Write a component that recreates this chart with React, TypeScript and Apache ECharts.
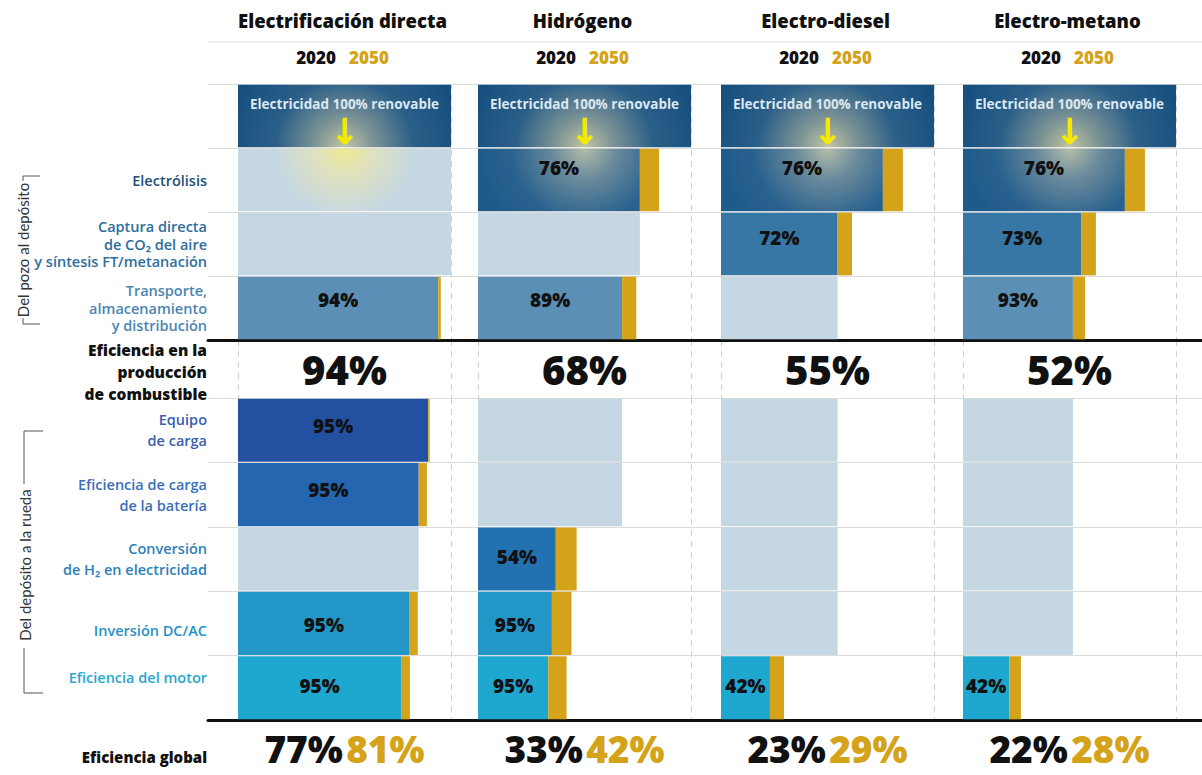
import React, { useEffect, useRef } from 'react';
import * as echarts from 'echarts';

// ---------------- data ----------------
const COLUMNS = ['Electrificación directa', 'Hidrógeno', 'Electro-diesel', 'Electro-metano'];
const YEARS = ['2020', '2050'];

const UPPER_ROWS = [
  'Electricidad 100% renovable',
  'Electrólisis',
  'Captura directa\nde CO₂ del aire\ny síntesis FT/metanación',
  'Transporte,\nalmacenamiento\ny distribución',
];
const LOWER_ROWS = [
  'Equipo\nde carga',
  'Eficiencia de carga\nde la batería',
  'Conversión\nde H₂ en electricidad',
  'Inversión DC/AC',
  'Eficiencia del motor',
];
const FUEL_ROW_LABEL = 'Eficiencia en la\nproducción\nde combustible';
const GLOBAL_ROW_LABEL = 'Eficiencia global';
const SECTION_UPPER = 'Del pozo al depósito';
const SECTION_LOWER = 'Del depósito a la rueda';

// stage efficiency 2020 (%) for Electrólisis, Captura, Transporte; null = step not used
const UPPER_2020: (number | null)[][] = [
  [null, null, 94],
  [76, null, 89],
  [76, 72, null],
  [76, 73, 93],
];
// share of energy remaining after the step in 2050 (%)
const UPPER_2050: (number | null)[][] = [
  [null, null, 95.2],
  [85.0, null, 74.3],
  [85.4, 61.5, null],
  [85.4, 62.4, 57.3],
];
const FUEL_EFF = [94, 68, 55, 52];
// stage efficiency 2020 (%) for the tank-to-wheel steps
const LOWER_2020: (number | null)[][] = [
  [95, 95, null, 95, 95],
  [null, null, 54, 95, 95],
  [null, null, null, null, 42],
  [null, null, null, null, 42],
];
const LOWER_2050: (number | null)[][] = [
  [90.0, 88.7, null, 84.4, 80.7],
  [null, null, 46.3, 43.9, 41.6],
  [null, null, null, null, 29.6],
  [null, null, null, null, 27.2],
];
const GLOBAL_2020 = [77, 33, 23, 22];
const GLOBAL_2050 = [81, 42, 29, 28];

// ---------------- style / layout ----------------
const FONT = '"Open Sans", Lato, "Noto Sans", sans-serif';
const GOLD = '#d4a31a';
const LIGHT = '#c5d7e3';
const UPPER_COLORS = ['#17507f', '#1f5b8a', '#3777a5', '#5b8fb6'];
const LOWER_COLORS = ['#2350a0', '#2466b0', '#2272b2', '#2396c8', '#1fa8cf'];
const UPPER_TEXT = ['#1e4f78', '#1e4f78', '#2e6e9c', '#4b86b2'];
const LOWER_TEXT = ['#3a5fae', '#3a6fb8', '#2e7fba', '#2592c4', '#27a7cf'];
const UPPER_LABEL_DY = [0, -12, -6, -8];
const LOWER_LABEL_DY = [-4, -5, -2, 2, -2];

const COL_LEFT = [238, 478, 721, 963];
const COL_W = 213;
const BG_LEFT = 208;
const UP_TOP = 84;
const UP_H = 256;
const FUEL_TOP = 340;
const FUEL_H = 58;
const LOW_TOP = 398;
const LOW_H = 322;
const GLOB_TOP = 722;
const GLOB_H = 53;
const LABEL_MARGIN = 31;

function glow(cx: number, cy: number, r: number, stops: [number, string][]) {
  return new echarts.graphic.RadialGradient(
    cx, cy, r,
    stops.map(([offset, color]) => ({ offset, color })),
    true
  );
}

function buildOption() {
  const grids: any[] = [];
  const xAxes: any[] = [];
  const yAxes: any[] = [];
  const series: any[] = [];
  const graphics: any[] = [];

  const addGrid = (g: any, x: any, y: any) => {
    grids.push(g);
    const i = grids.length - 1;
    xAxes.push({ ...x, gridIndex: i });
    yAxes.push({ ...y, gridIndex: i });
    return i;
  };

  const hiddenBits = { axisTick: { show: false }, axisLabel: { show: false } };

  // background row lines
  const bgX = {
    type: 'value', min: 0, max: 1, ...hiddenBits,
    axisLine: { show: true, onZero: false, lineStyle: { color: '#111', width: 3 } },
    splitLine: { show: false },
  };
  addGrid({ left: BG_LEFT, right: 0, top: UP_TOP, height: UP_H }, bgX, {
    type: 'category', inverse: true, data: UPPER_ROWS, ...hiddenBits,
    axisLine: { show: false }, splitLine: { show: true, lineStyle: { color: '#dcdcdc', width: 1 } },
  });
  addGrid({ left: BG_LEFT, right: 0, top: LOW_TOP, height: LOW_H }, bgX, {
    type: 'category', inverse: true, data: LOWER_ROWS, ...hiddenBits,
    axisLine: { show: false }, splitLine: { show: true, lineStyle: { color: '#dcdcdc', width: 1 } },
  });

  const colX = (dashed: boolean) => ({
    type: 'value', min: 0, max: 100, interval: 100, ...hiddenBits,
    axisLine: { show: false },
    splitLine: { show: dashed, lineStyle: { color: '#d0d0d0', type: [6, 5], width: 1 } },
  });

  const rowLabel = (rows: string[], colors: string[], extra: Record<number, any>, skipFirst: boolean) => {
    const rich: any = {};
    rows.forEach((_, i) => {
      rich['r' + i] = {
        color: colors[i], fontFamily: FONT, fontSize: 14.5, fontWeight: 600,
        lineHeight: rows === UPPER_ROWS ? 17.5 : 21, align: 'right', ...(extra[i] || {}),
      };
    });
    return {
      show: true, margin: LABEL_MARGIN, align: 'right',
      formatter: (v: string, i: number) =>
        skipFirst && i === 0 ? '' : v.split('\n').map((l) => `{r${i}|${l}}`).join('\n'),
      rich,
    };
  };

  const barLabel = (v: number, dy: number) => ({
    show: true, position: 'inside', offset: [0, dy], formatter: `${v}%`,
    fontFamily: FONT, fontSize: 19, fontWeight: 800, color: '#111',
  });

  COLUMNS.forEach((name, c) => {
    const cx = COL_LEFT[c] + COL_W / 2;
    const glowY = UP_TOP + UP_H / 4;

    // ---------- upper section ----------
    const gU = addGrid({ left: COL_LEFT[c], width: COL_W, top: UP_TOP, height: UP_H }, colX(true), {
      type: 'category', inverse: true, data: UPPER_ROWS, axisLine: { show: false }, axisTick: { show: false },
      axisLabel: c === 0 ? rowLabel(UPPER_ROWS, UPPER_TEXT, {}, true) : { show: false },
    });
    let cur = 100;
    const uBase: any[] = [];
    const uGold: any[] = [];
    uBase.push({
      value: 100,
      itemStyle: {
        color: glow(cx, glowY, 115, [[0, '#c2c6a2'], [0.25, '#7d9495'], [0.6, '#2b5f88'], [1, UPPER_COLORS[0]]]),
      },
      label: {
        show: true, position: 'insideTop', distance: 9,
        formatter: `{t|${UPPER_ROWS[0]}}\n{a|↓}`,
        rich: {
          t: { color: '#dce8f2', fontFamily: FONT, fontSize: 13.5, fontWeight: 'bold', lineHeight: 20 },
          a: { color: '#f6e900', fontFamily: '"DejaVu Sans"', fontSize: 36, fontWeight: 'bold', lineHeight: 36 },
        },
      },
    });
    uGold.push(0);
    UPPER_2020[c].forEach((s, k) => {
      const r = k + 1;
      const before = cur;
      if (s != null) {
        cur = (cur * s) / 100;
        let color: any = UPPER_COLORS[r];
        if (r === 1) color = glow(cx, glowY, 105, [[0, '#b4bea8'], [0.3, '#6a8a9c'], [0.7, '#2a628e'], [1, UPPER_COLORS[1]]]);
        uBase.push({ value: cur, itemStyle: { color }, label: barLabel(s, UPPER_LABEL_DY[r]) });
        const reach = UPPER_2050[c][k];
        uGold.push(reach != null ? Math.max(0, reach - cur) : 0);
      } else {
        let color: any = LIGHT;
        if (r === 1) color = glow(cx, glowY, 95, [[0, '#eee98f'], [0.3, '#dfe1bf'], [0.75, LIGHT], [1, LIGHT]]);
        uBase.push({ value: before, itemStyle: { color }, label: { show: false } });
        uGold.push(0);
      }
    });
    series.push({
      type: 'bar', xAxisIndex: gU, yAxisIndex: gU, stack: 'u' + c, barCategoryGap: '2%', silent: true, data: uBase,
    });
    series.push({
      type: 'bar', xAxisIndex: gU, yAxisIndex: gU, stack: 'u' + c, barCategoryGap: '2%', silent: true,
      itemStyle: { color: GOLD }, data: uGold,
    });

    // ---------- fuel production row ----------
    const gF = addGrid({ left: COL_LEFT[c], width: COL_W, top: FUEL_TOP, height: FUEL_H }, colX(true), {
      type: 'category', data: [FUEL_ROW_LABEL], axisLine: { show: false }, axisTick: { show: false },
      axisLabel: c === 0
        ? {
            show: true, margin: LABEL_MARGIN, align: 'right',
            formatter: (v: string) => v.split('\n').map((l) => `{f|${l}}`).join('\n'),
            rich: { f: { color: '#111', fontFamily: FONT, fontSize: 15.5, fontWeight: 800, lineHeight: 22, align: 'right', padding: [5, 0, 0, 0] } },
          }
        : { show: false },
    });
    series.push({
      type: 'bar', xAxisIndex: gF, yAxisIndex: gF, barCategoryGap: 0, silent: true,
      itemStyle: { color: 'rgba(0,0,0,0)' },
      data: [{
        value: 100,
        label: {
          show: true, position: 'inside', formatter: `${FUEL_EFF[c]}%`,
          fontFamily: FONT, fontSize: 40, fontWeight: 800, color: '#111',
        },
      }],
    });

    // ---------- lower section ----------
    const gL = addGrid({ left: COL_LEFT[c], width: COL_W, top: LOW_TOP, height: LOW_H }, colX(true), {
      type: 'category', inverse: true, data: LOWER_ROWS, axisLine: { show: false }, axisTick: { show: false },
      axisLabel: c === 0
        ? rowLabel(LOWER_ROWS, LOWER_TEXT, { 3: { padding: [14, 0, 0, 0] }, 4: { padding: [0, 0, 20, 0] } }, false)
        : { show: false },
    });
    const lBase: any[] = [];
    const lGold: any[] = [];
    LOWER_2020[c].forEach((s, r) => {
      const before = cur;
      if (s != null) {
        cur = (cur * s) / 100;
        lBase.push({ value: cur, itemStyle: { color: LOWER_COLORS[r] }, label: barLabel(s, LOWER_LABEL_DY[r]) });
        const reach = LOWER_2050[c][r];
        lGold.push(reach != null ? Math.max(0, reach - cur) : 0);
      } else {
        lBase.push({ value: before, itemStyle: { color: LIGHT }, label: { show: false } });
        lGold.push(0);
      }
    });
    series.push({
      type: 'bar', xAxisIndex: gL, yAxisIndex: gL, stack: 'l' + c, barCategoryGap: '2%', silent: true, data: lBase,
    });
    series.push({
      type: 'bar', xAxisIndex: gL, yAxisIndex: gL, stack: 'l' + c, barCategoryGap: '2%', silent: true,
      itemStyle: { color: GOLD }, data: lGold,
    });

    // ---------- global efficiency row ----------
    const gG = addGrid({ left: COL_LEFT[c], width: COL_W, top: GLOB_TOP, height: GLOB_H }, colX(false), {
      type: 'category', data: [GLOBAL_ROW_LABEL], axisLine: { show: false }, axisTick: { show: false },
      axisLabel: c === 0
        ? {
            show: true, margin: LABEL_MARGIN, align: 'right',
            formatter: (v: string) => `{g|${v}}`,
            rich: { g: { color: '#111', fontFamily: FONT, fontSize: 15, fontWeight: 800, padding: [17, 0, 0, 0] } },
          }
        : { show: false },
    });
    series.push({
      type: 'bar', xAxisIndex: gG, yAxisIndex: gG, barCategoryGap: 0, silent: true,
      itemStyle: { color: 'rgba(0,0,0,0)' },
      data: [{
        value: 100,
        label: {
          show: true, position: 'inside', offset: [0, 0],
          formatter: `{a|${GLOBAL_2020[c]}%} {b|${GLOBAL_2050[c]}%}`,
          rich: {
            a: { color: '#111', fontFamily: FONT, fontSize: 37, fontWeight: 800, lineHeight: 38 },
            b: { color: GOLD, fontFamily: FONT, fontSize: 37, fontWeight: 800, lineHeight: 38 },
          },
        },
      }],
    });

    // ---------- header ----------
    graphics.push({
      type: 'text', x: cx - 2, y: 20,
      style: {
        text: name, fill: '#111', fontFamily: FONT, fontSize: 18.5, fontWeight: 800,
        align: 'center', verticalAlign: 'middle', textAlign: 'center', textVerticalAlign: 'middle',
      },
    });
    graphics.push({
      type: 'text', x: cx - 2, y: 57,
      style: {
        text: `{k|${YEARS[0]}}{g|${YEARS[1]}}`,
        align: 'center', verticalAlign: 'middle', textAlign: 'center', textVerticalAlign: 'middle',
        rich: {
          k: { fill: '#111', color: '#111', fontFamily: FONT, fontSize: 17, fontWeight: 800, padding: [0, 13, 0, 0] },
          g: { fill: GOLD, color: GOLD, fontFamily: FONT, fontSize: 17, fontWeight: 800 },
        },
      },
    });
  });

  // header rule
  graphics.push({ type: 'line', shape: { x1: BG_LEFT, y1: 42, x2: 1202, y2: 42 }, style: { stroke: '#e2e2e2', lineWidth: 1 } });

  // section brackets
  const sideText = (text: string, x: number, y: number) => ({
    type: 'text', x, y, rotation: Math.PI / 2,
    style: {
      text, fill: '#333', fontFamily: 'Lato, "Noto Sans", sans-serif', fontSize: 15,
      align: 'center', verticalAlign: 'middle', textAlign: 'center', textVerticalAlign: 'middle',
    },
  });
  graphics.push(sideText(SECTION_UPPER, 23, 250));
  graphics.push({ type: 'polyline', shape: { points: [[23, 181], [23, 176], [40, 176]] }, style: { stroke: '#555', lineWidth: 1, fill: null } });
  graphics.push({ type: 'polyline', shape: { points: [[23, 318], [23, 324], [40, 324]] }, style: { stroke: '#555', lineWidth: 1, fill: null } });
  graphics.push(sideText(SECTION_LOWER, 25, 565));
  graphics.push({ type: 'polyline', shape: { points: [[24, 484], [24, 431], [43, 431]] }, style: { stroke: '#555', lineWidth: 1, fill: null } });
  graphics.push({ type: 'polyline', shape: { points: [[24, 648], [24, 693], [43, 693]] }, style: { stroke: '#555', lineWidth: 1, fill: null } });

  return {
    animation: false,
    backgroundColor: '#ffffff',
    grid: grids,
    xAxis: xAxes,
    yAxis: yAxes,
    series,
    graphic: graphics,
  };
}

export default function App() {
  const ref = useRef<HTMLDivElement>(null);
  useEffect(() => {
    const chart = echarts.init(ref.current!, null, { renderer: 'svg' });
    chart.setOption(buildOption() as any);
    return () => chart.dispose();
  }, []);
  return (
    <div
      ref={ref}
      style={{ position: 'fixed', left: 0, top: 0, width: 1202, height: 775, background: '#fff' }}
    />
  );
}
